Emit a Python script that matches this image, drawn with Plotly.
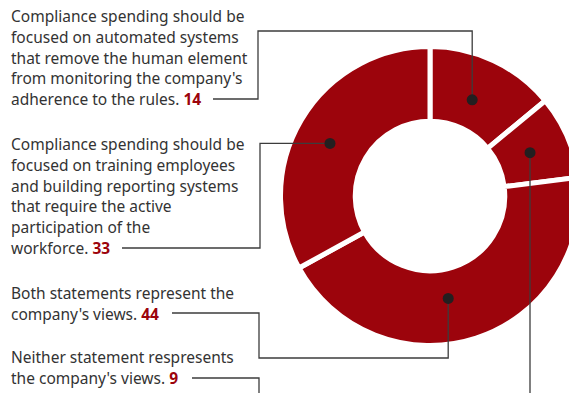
import math
import plotly.graph_objects as go

# Survey answers, clockwise from 12 o'clock
answers = ["Automated systems", "Neither statement", "Both statements", "Training and reporting"]
shares = [14, 9, 44, 33]
statements = [
    "Compliance spending should be\nfocused on automated systems\nthat remove the human element\n"
    "from monitoring the company's\nadherence to the rules.",
    "Neither statement respresents\nthe company's views.",
    "Both statements represent the\ncompany's views.",
    "Compliance spending should be\nfocused on training employees\nand building reporting systems\n"
    "that require the active\nparticipation of the\nworkforce.",
]

# ---- layout (pixels) ----
W, H = 580, 393
CX, CY = 430, 196          # donut centre
R_OUT = 149.5              # outer radius incl. half the white separator stroke
HOLE = 0.5
RED = "#9c040c"
INK = "#333333"
LINE = "#3c3c3c"
DOT = "#231f20"
FONT = dict(family="Noto Sans", size=15.5, color=INK)
LINE_GAP = 20.8

dot_frac = [0.47, 0.5, 0.55, 0.476]  # where the dot sits inside each slice (angle fraction)
dot_r = [105, 109, 104, 113]         # distance of each dot from the centre
dot_size = 11
text_top = [16, 357.3, 292.8, 144]   # centre of the first line of each text block
# leader routing: (line start x, line start y, vertical run x, horizontal run y)
routes = [
    (213, 99, 258, 31),
    (192, 378, 259, 410),
    (172, 313, 259, 358),
    (122, 248, 260, None),
]

fig = go.Figure()

fig.add_trace(go.Pie(
    values=shares, labels=answers, sort=False, direction="clockwise", rotation=0,
    hole=HOLE, textinfo="none", hoverinfo="label+value",
    marker=dict(colors=[RED] * len(shares), line=dict(color="white", width=5)),
    domain=dict(x=[(CX - R_OUT) / W, (CX + R_OUT) / W],
                y=[1 - (CY + R_OUT) / H, 1 - (CY - R_OUT) / H]),
    showlegend=False,
))

# invisible carrier so the pixel-scaled axes exist
fig.add_trace(go.Scatter(x=[0, W], y=[0, H], mode="markers", marker=dict(opacity=0),
                         hoverinfo="skip", showlegend=False))

total = sum(shares)
cum = 0
for i, v in enumerate(shares):
    ang = math.radians((cum + dot_frac[i] * v) / total * 360)
    cum += v
    dx = CX + dot_r[i] * math.sin(ang)
    dy = CY - dot_r[i] * math.cos(ang)
    sx, sy, vx, hy = routes[i]
    if hy is None:
        hy = dy
    pts = [(sx, sy), (vx, sy), (vx, hy), (dx, hy), (dx, dy)]
    path = "M " + " L ".join(f"{px:.1f},{py:.1f}" for px, py in pts)
    fig.add_shape(type="path", path=path, xref="x", yref="y", layer="above",
                  line=dict(color=LINE, width=1.3))
    rr = dot_size / 2
    fig.add_shape(type="circle", xref="x", yref="y", layer="above",
                  x0=dx - rr, x1=dx + rr, y0=dy - rr, y1=dy + rr,
                  fillcolor=DOT, line=dict(width=0))

    lines = statements[i].split("\n")
    for k, ln in enumerate(lines):
        txt = ln
        if k == len(lines) - 1:
            txt = f"{ln} <b><span style='color:{RED}'>{v}</span></b>"
        fig.add_annotation(
            x=9, y=text_top[i] + k * LINE_GAP, xref="x", yref="y",
            xanchor="left", yanchor="middle", align="left", showarrow=False,
            text=txt, font=FONT,
        )

fig.update_xaxes(range=[0, W], visible=False, fixedrange=True)
fig.update_yaxes(range=[H, 0], visible=False, fixedrange=True)
fig.update_layout(
    width=W, height=H, margin=dict(l=0, r=0, t=0, b=0),
    paper_bgcolor="white", plot_bgcolor="rgba(0,0,0,0)", showlegend=False,
)

fig.write_html("out.html", post_script=(
    "document.documentElement.style.overflow='hidden';"
    "document.body.style.overflow='hidden';"
))
